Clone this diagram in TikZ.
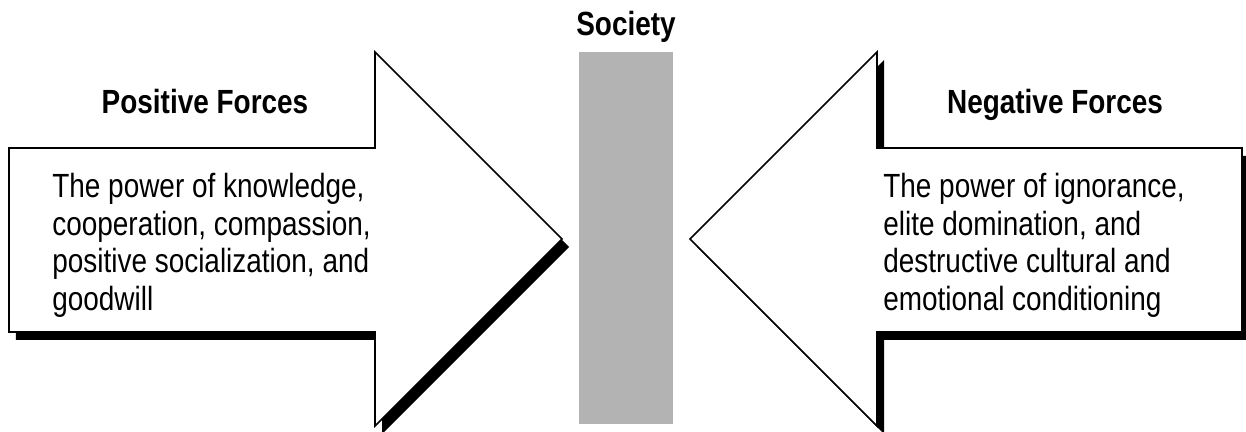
\documentclass[tikz,border=0pt]{standalone}
\usepackage{fontspec}
\setsansfont{Liberation Sans}
\usetikzlibrary{shadows}

\begin{document}
\begin{tikzpicture}[
    font=\sffamily,
    forcearrow/.style={draw=black, line width=0.9pt, fill=white, drop shadow={shadow xshift=0.14cm, shadow yshift=-0.16cm, opacity=1, fill=black}},
    forcetitle/.style={font=\sffamily\bfseries\fontsize{15.9}{19}\selectfont, anchor=base, inner sep=0pt, yscale=1.2, transform shape},
    bodytext/.style={font=\sffamily\fontsize{15.9}{17.8}\selectfont, align=left, anchor=north west, inner sep=0pt, yscale=1.2, transform shape},
]

\definecolor{cBar}{HTML}{B3B3B3} % grigio

\useasboundingbox (0,0) rectangle (24.92,8.64);

\draw[forcearrow] (0.18,2.00) -- (0.18,5.68) -- (7.50,5.68) -- (7.50,7.60) -- (11.24,3.86) -- (7.50,0.12) -- (7.50,2.00) -- cycle;
\draw[forcearrow] (24.84,2.00) -- (24.84,5.68) -- (17.54,5.68) -- (17.54,7.60) -- (13.80,3.86) -- (17.54,0.12) -- (17.54,2.00) -- cycle;

\node[fill=cBar, minimum width=1.88cm, minimum height=7.44cm, inner sep=0pt] (bar) at (12.52,3.88) {};
\node[forcetitle] (society) at (12.52,7.92) {Society};

\node[forcetitle] (pos_title) at (4.10,6.36) {Positive Forces};
\node[forcetitle] (neg_title) at (21.10,6.36) {Negative Forces};

\node[bodytext] (pos_text) at (1.04,5.18) {The power of knowledge,\\cooperation, compassion,\\positive socialization, and\\goodwill};
\node[bodytext] (neg_text) at (17.66,5.18) {The power of ignorance,\\elite domination, and\\destructive cultural and\\emotional conditioning};

\end{tikzpicture}
\end{document}
